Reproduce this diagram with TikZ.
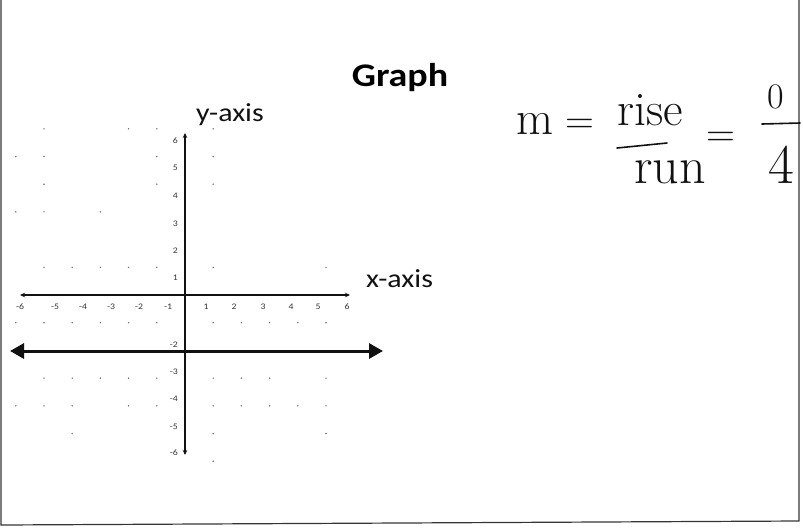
\documentclass[tikz,border=0pt]{standalone}
\usepackage{fontspec}
\setsansfont{Carlito}[FakeStretch=1.15]
\usepackage{tikz}
\usetikzlibrary{arrows.meta}
\definecolor{ink}{HTML}{111111}
\definecolor{speck}{HTML}{6E6E6E}

\begin{document}
\begin{tikzpicture}[
  x=1pt, y=-1pt,
  font=\sffamily,
  frameline/.style={draw=ink!85, line width=1.2pt},
  axisline/.style={draw=ink, line width=1.4pt, {Stealth[length=5pt,width=4.5pt]}-{Stealth[length=5pt,width=4.5pt]}},
  graphline/.style={draw=ink, line width=3pt, {Triangle[length=14pt,width=15pt]}-{Triangle[length=14pt,width=15pt]}},
  griddot/.style={fill=speck, inner sep=0pt, minimum size=1.6pt, circle},
  ticklab/.style={font=\sffamily\fontsize{8.5}{8.5}\selectfont, text=ink!85, inner sep=0pt},
  axislab/.style={font=\sffamily\fontsize{26}{28}\selectfont, text=ink, inner sep=0pt, anchor=base west},
  hand/.style={font=\fontsize{#1}{#1}\selectfont, text=ink, inner sep=0pt},
  handbar/.style={draw=ink, line width=1.6pt, line cap=round}
]
\useasboundingbox (0,0) rectangle (803,528);

% 1. Scanned slide border
\draw[frameline] (1,0) -- (1,525) -- (799,521) -- (799,0);

% 2. Title and axis names
\node[font=\sffamily\bfseries\fontsize{33}{36}\selectfont, anchor=base, inner sep=0pt] (title) at (400,86) {Graph};
\node[axislab] (ylab) at (196,121) {y-axis};
\node[axislab] (xlab) at (366,287) {x-axis};

% 3. Axes
\coordinate (origin) at (185,295);
\coordinate (xleft) at (20,295);
\coordinate (xright) at (350,295);
\coordinate (ytop) at (185,133);
\coordinate (ybottom) at (185,455);
\draw[axisline] (xleft) -- (xright);
\draw[axisline] (ytop) -- (ybottom);

% faint grid dots that survived the scan
\begin{scope}[shift={(origin)}, x=28.2pt, y=27.7pt]
  \foreach \gx/\gy in {-5/6,-2/6,-1/6,1/6, -6/5,-5/5,-1/5,1/5, -5/4,-1/4,1/4,
      -6/3,-5/3,-3/3, -5/1,-4/1,-3/1,-2/1,-1/1,1/1,5/1,
      -6/-1,-5/-1,-4/-1,-3/-1,-2/-1,-1/-1,1/-1,2/-1,3/-1,4/-1,5/-1,
      -5/-3,-4/-3,-3/-3,-2/-3,-1/-3,1/-3,2/-3,3/-3,5/-3,
      -6/-4,-5/-4,-4/-4,-2/-4,-1/-4,1/-4,2/-4,3/-4,4/-4,5/-4,
      -4/-5,1/-5,5/-5, 1/-6}
    \node[griddot] at (\gx,\gy) {};
\end{scope}

% tick numbers
\foreach \lab/\px in {-6/20,-5/55,-4/83,-3/111,-2/139,-1/168,1/206,2/234,3/263,4/291,5/318,6/347}
  \node[ticklab] at (\px,307) {\lab};
\foreach \lab/\py in {6/141,5/168,4/196,3/224,2/251,1/278,-2/345,-3/372,-4/399,-5/427,-6/453}
  \node[ticklab, anchor=east] at (178,\py) {\lab};

% 4. Line y = -2
\coordinate (lineleft) at (10,351);
\coordinate (lineright) at (383,351);
\draw[graphline] (lineleft) -- (lineright);

% 5. Handwritten slope
\node[hand=48, anchor=base] (m) at (535,134) {m};
\node[hand=40, anchor=center] (eqa) at (580,126) {=};
\node[hand=48, anchor=base] (rise) at (650,125) {rise};
\node[hand=52, anchor=base] (run) at (670,183) {run};
\node[hand=40, anchor=center] (eqb) at (721,139) {=};
\node[hand=36, anchor=base] (zero) at (776,108) {0};
\node[hand=56, anchor=base] (four) at (781,183) {4};
\draw[handbar] (617,148) -- (667,143);
\draw[handbar] (762,124) -- (800,123);

\end{tikzpicture}
\end{document}
